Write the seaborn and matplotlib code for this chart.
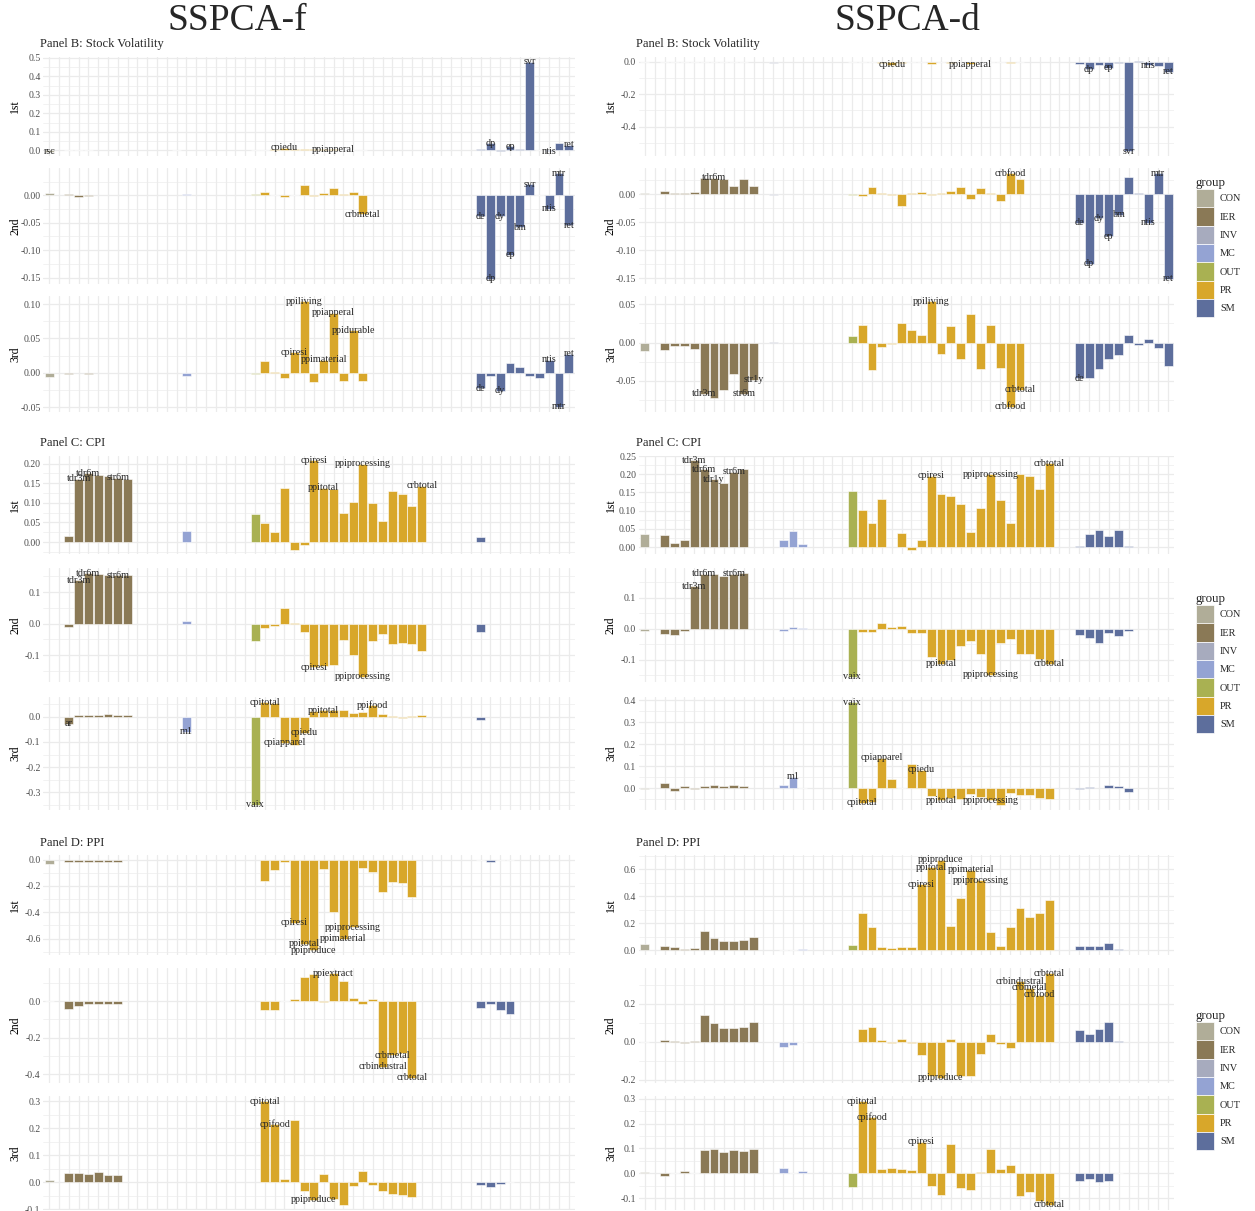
import matplotlib
matplotlib.use("Agg")
import matplotlib.pyplot as plt
from matplotlib.patches import Patch
from matplotlib.ticker import MaxNLocator, MultipleLocator
import pandas as pd
import seaborn as sns

# --- groups of the 54 predictors (same order in every panel) ---
group_order = ["CON", "IER", "INV", "MC", "OUT", "PR", "SM"]
group_sizes = [2, 11, 1, 3, 5, 22, 10]
group_colors = {"CON": "#B0AD98", "IER": "#8A7956", "INV": "#A7ABBE", "MC": "#94A3D3",
                "OUT": "#A9B152", "PR": "#D8A72A", "SM": "#5D6E9C"}
components = ["1st", "2nd", "3rd"]

# loadings are given per group (CON, IER, INV, MC, OUT, PR, SM);
# trailing zero loadings inside a group are left out

# ---- SSPCA-f, Panel B: Stock Volatility ----
b_f_names = {"rsc": 0, "cpiedu": 24, "cpiresi": 25, "ppiliving": 26, "ppimaterial": 28,
             "ppiapperal": 29, "ppidurable": 31, "crbmetal": 32, "de": 44, "dp": 45,
             "dy": 46, "ep": 47, "bm": 48, "svr": 49, "ntis": 51, "mtr": 52, "ret": 53}
b_f_1st = [[-0.006], [0.003, 0.003, 0.003], [0.002], [], [0, 0, 0, 0, 0.003],
           [0.004, 0.006, 0.015, 0.008, 0.007, 0.006, 0.005, 0.006, 0.004, 0.003, 0.002],
           [0.010, 0.038, -0.003, 0.022, 0.010, 0.480, 0.002, -0.004, 0.042, 0.030]]
b_f_2nd = [[0.004], [0.002, -0.003, -0.001], [], [0.003], [0, 0, 0, 0, 0.003],
           [0.006, 0.001, -0.003, 0.001, 0.018, -0.002, 0.004, 0.013, 0.003, 0.006, -0.035],
           [-0.038, -0.152, -0.038, -0.108, -0.058, 0.020, 0.001, -0.025, 0.040, -0.055]]
b_f_3rd = [[-0.006], [-0.002, 0, -0.001], [], [-0.004], [0, 0, 0, 0, -0.001],
           [0.018, 0.001, -0.008, 0.030, 0.104, -0.013, 0.019, 0.087, -0.012, 0.062, -0.012],
           [-0.022, -0.004, -0.026, 0.015, 0.009, -0.004, -0.008, 0.019, -0.049, 0.028]]
b_f_labels = [["rsc", "cpiedu", "ppiapperal", "dp", "ep", "svr", "ntis", "ret"],
              ["crbmetal", "de", "dp", "dy", "ep", "bm", "svr", "ntis", "mtr", "ret"],
              ["cpiresi", "ppiliving", "ppimaterial", "ppiapperal", "ppidurable",
               "de", "dy", "ntis", "mtr", "ret"]]

# ---- SSPCA-f, Panel C: CPI ----
c_f_names = {"ar": 2, "tdr3m": 3, "tdr6m": 4, "str6m": 7, "m1": 14, "vaix": 21,
             "cpitotal": 22, "cpiapparel": 24, "cpiedu": 26, "cpiresi": 27, "ppitotal": 28,
             "ppiprocessing": 32, "ppifood": 33, "crbtotal": 38}
c_f_1st = [[], [0.015, 0.161, 0.176, 0.172, 0.168, 0.164, 0.161], [], [0.029], [0, 0, 0, 0, 0.071],
           [0.048, 0.026, 0.137, -0.019, -0.008, 0.208, 0.139, 0.135, 0.075, 0.103, 0.200,
            0.100, 0.055, 0.129, 0.123, 0.092, 0.143],
           [0.014]]
c_f_2nd = [[], [-0.010, 0.138, 0.160, 0.158, 0.155, 0.153, 0.153], [], [0.008], [0, 0, 0, 0, -0.054],
           [-0.013, -0.007, 0.050, 0.001, -0.026, -0.138, -0.135, -0.130, -0.051, -0.101, -0.169,
            -0.054, -0.032, -0.066, -0.063, -0.064, -0.086],
           [-0.028]]
c_f_3rd = [[], [-0.028, 0.007, 0.007, 0.006, 0.009, 0.005, 0.005], [], [-0.060], [0, 0, 0, 0, -0.350],
           [0.058, 0.055, -0.104, -0.112, -0.063, 0.021, 0.026, 0.025, 0.026, 0.016, 0.020,
            0.046, 0.009, 0.003, -0.005, 0.004, 0.005],
           [-0.012]]
c_f_labels = [["tdr3m", "tdr6m", "str6m", "cpiresi", "ppitotal", "ppiprocessing", "crbtotal"],
              ["tdr3m", "tdr6m", "str6m", "cpiresi", "ppiprocessing"],
              ["ar", "m1", "vaix", "cpitotal", "cpiapparel", "cpiedu", "ppitotal", "ppifood"]]

# ---- SSPCA-f, Panel D: PPI ----
d_f_names = {"cpitotal": 22, "cpifood": 23, "cpiresi": 25, "ppitotal": 26, "ppiproduce": 27,
             "ppiextract": 29, "ppimaterial": 30, "ppiprocessing": 31, "crbindustral": 34,
             "crbmetal": 35, "crbtotal": 37}
d_f_1st = [[-0.033], [-0.022, -0.018, -0.015, -0.020, -0.016, -0.015], [], [], [],
           [-0.165, -0.079, -0.015, -0.480, -0.638, -0.690, -0.074, -0.400, -0.600, -0.515,
            -0.066, -0.097, -0.244, -0.168, -0.180, -0.282],
           [-0.006, -0.018, -0.004, -0.006]]
d_f_2nd = [[-0.001], [-0.042, -0.024, -0.015, -0.015, -0.015, -0.015], [], [], [],
           [-0.050, -0.048, -0.002, 0.011, 0.134, 0.147, -0.003, 0.152, 0.110, 0.015,
            -0.018, 0.013, -0.358, -0.294, -0.281, -0.418],
           [-0.037, -0.016, -0.048, -0.068]]
d_f_3rd = [[0.007], [0.034, 0.034, 0.030, 0.037, 0.028, 0.029], [], [], [],
           [0.300, 0.214, 0.012, 0.229, -0.032, -0.065, 0.031, -0.060, -0.083, -0.012,
            0.042, -0.010, -0.033, -0.043, -0.047, -0.053],
           [-0.010, -0.018, -0.006, 0.001]]
d_f_labels = [["cpiresi", "ppitotal", "ppiproduce", "ppimaterial", "ppiprocessing"],
              ["ppiextract", "crbmetal", "crbindustral", "crbtotal"],
              ["cpitotal", "cpifood", "ppiproduce"]]

# ---- SSPCA-d, Panel B: Stock Volatility ----
b_d_names = {"tdr3m": 6, "tdr6m": 7, "str6m": 10, "str1y": 11, "cpiedu": 25, "ppiliving": 29,
             "ppiapperal": 33, "crbfood": 37, "crbtotal": 38, "de": 44, "dp": 45, "dy": 46,
             "ep": 47, "bm": 48, "svr": 49, "ntis": 51, "mtr": 52, "ret": 53}
b_d_1st = [[-0.003], [-0.004, -0.003, -0.004, -0.005, -0.004, -0.005, -0.003, -0.004, -0.003],
           [-0.006], [], [0, 0, 0, 0, -0.004],
           [-0.005, -0.004, -0.008, -0.020, -0.006, -0.004, -0.005, -0.014, -0.003, -0.006,
            -0.004, -0.016, -0.004, -0.005, -0.003, -0.006, -0.002],
           [-0.012, -0.047, -0.020, -0.037, -0.008, -0.554, 0.001, -0.023, -0.025, -0.062]]
b_d_2nd = [[0.002], [0.006, 0.001, 0.002, 0.003, 0.029, 0.029, 0.027, 0.015, 0.027, 0.015],
           [-0.002], [], [0, 0, 0, 0, -0.002],
           [-0.004, 0.012, 0.002, -0.002, -0.022, 0.002, 0.003, -0.002, 0.002, 0.006, 0.012,
            -0.009, 0.011, 0.002, -0.012, 0.037, 0.027],
           [-0.051, -0.124, -0.043, -0.075, -0.037, 0.030, 0.002, -0.051, 0.037, -0.151]]
b_d_3rd = [[-0.011], [-0.010, -0.005, -0.005, -0.008, -0.067, -0.073, -0.062, -0.041, -0.067, -0.049],
           [0.001], [], [0, 0, 0, 0, 0.009],
           [0.023, -0.036, -0.006, -0.002, 0.026, 0.016, 0.010, 0.054, -0.015, 0.022, -0.022,
            0.037, -0.035, 0.023, -0.033, -0.084, -0.062],
           [-0.047, -0.046, -0.035, -0.021, -0.016, 0.010, -0.003, 0.005, -0.007, -0.031]]
b_d_labels = [["cpiedu", "ppiapperal", "dp", "ep", "svr", "ntis", "ret"],
              ["tdr6m", "crbfood", "de", "dp", "dy", "ep", "bm", "ntis", "mtr", "ret"],
              ["tdr3m", "str6m", "str1y", "ppiliving", "crbtotal", "crbfood", "de"]]

# ---- SSPCA-d, Panel C: CPI ----
c_d_names = {"tdr3m": 5, "tdr6m": 6, "tdr1y": 7, "str6m": 9, "m1": 15, "vaix": 21,
             "cpitotal": 22, "cpiapparel": 24, "cpiedu": 28, "cpiresi": 29, "ppitotal": 30,
             "ppiprocessing": 35, "crbtotal": 41}
c_d_1st = [[0.035], [0.032, 0.012, 0.019, 0.238, 0.214, 0.187, 0.175, 0.207, 0.214], [],
           [0.020, 0.043, 0.007], [0, 0, 0, 0, 0.155],
           [0.103, 0.066, 0.133, 0, 0.039, -0.007, 0.020, 0.196, 0.147, 0.140, 0.118, 0.040,
            0.108, 0.200, 0.128, 0.065, 0.200, 0.195, 0.160, 0.230],
           [0.002, 0.035, 0.048, 0.031, 0.048, 0.004]]
c_d_2nd = [[-0.006], [-0.018, -0.022, -0.008, 0.137, 0.178, 0.178, 0.170, 0.178, 0.180], [],
           [-0.008, 0.006, 0.003], [0, 0, 0, 0, -0.156],
           [-0.012, -0.010, 0.017, 0.005, 0.010, -0.015, -0.013, -0.092, -0.113, -0.102,
            -0.055, -0.040, -0.083, -0.150, -0.045, -0.033, -0.083, -0.082, -0.098, -0.113],
           [-0.022, -0.030, -0.047, -0.015, -0.023, -0.008]]
c_d_3rd = [[-0.003], [0.025, -0.013, 0.010, -0.003, 0.012, 0.014, 0.012, 0.015, 0.013], [],
           [0.015, 0.052, 0.002], [0, 0, 0, 0, 0.392],
           [-0.065, -0.060, 0.139, 0.043, 0.002, 0.111, 0.085, -0.033, -0.054, -0.045,
            -0.048, -0.025, -0.038, -0.054, -0.075, -0.022, -0.032, -0.028, -0.045, -0.048],
           [-0.005, 0.007, 0, 0.016, 0.013, -0.016]]
c_d_labels = [["tdr3m", "tdr6m", "tdr1y", "str6m", "cpiresi", "ppiprocessing", "crbtotal"],
              ["tdr3m", "tdr6m", "str6m", "vaix", "ppitotal", "ppiprocessing", "crbtotal"],
              ["m1", "vaix", "cpitotal", "cpiapparel", "cpiedu", "ppitotal", "ppiprocessing"]]

# ---- SSPCA-d, Panel D: PPI ----
d_d_names = {"cpitotal": 22, "cpifood": 23, "cpiresi": 28, "ppitotal": 29, "ppiproduce": 30,
             "ppimaterial": 33, "ppiprocessing": 34, "crbindustral": 38, "crbmetal": 39,
             "crbfood": 40, "crbtotal": 41}
d_d_1st = [[0.050], [0.030, 0.028, 0.010, 0.020, 0.147, 0.095, 0.068, 0.073, 0.078, 0.102], [],
           [0.005, 0.005, 0.010], [0, 0, 0, 0, 0.043],
           [0.280, 0.170, 0.027, 0.015, 0.022, 0.027, 0.490, 0.615, 0.672, 0.180, 0.390,
            0.595, 0.518, 0.135, 0.030, 0.170, 0.315, 0.245, 0.275, 0.375],
           [0.035, 0.035, 0.030, 0.055, 0.008]]
d_d_2nd = [[-0.002], [0.012, 0.006, -0.005, 0.002, 0.143, 0.100, 0.072, 0.075, 0.080, 0.102], [],
           [-0.025, -0.018, -0.002], [],
           [0.065, 0.077, 0.007, -0.007, 0.016, -0.006, -0.070, -0.180, -0.190, 0.016,
            -0.180, -0.180, -0.065, 0.043, -0.013, -0.033, 0.320, 0.285, 0.248, 0.362],
           [0.060, 0.040, 0.068, 0.102, 0.005]]
d_d_3rd = [[0.005], [-0.010, 0.001, 0.009, 0.003, 0.095, 0.097, 0.085, 0.095, 0.088, 0.097], [],
           [0.022, 0.002, 0.008], [0, 0, 0, 0, -0.055],
           [0.290, 0.225, 0.016, 0.020, 0.019, 0.013, 0.127, -0.050, -0.088, 0.117, -0.058,
            -0.066, 0.005, 0.098, 0.017, 0.035, -0.090, -0.076, -0.113, -0.127],
           [-0.032, -0.024, -0.035, -0.030, 0.001]]
d_d_labels = [["cpiresi", "ppitotal", "ppiproduce", "ppimaterial", "ppiprocessing"],
              ["ppiproduce", "crbindustral", "crbmetal", "crbfood", "crbtotal"],
              ["cpitotal", "cpifood", "cpiresi", "crbtotal"]]

panel_titles = ["Panel B: Stock Volatility", "Panel C: CPI", "Panel D: PPI"]
methods = {
    "SSPCA-f": [(b_f_names, [b_f_1st, b_f_2nd, b_f_3rd], b_f_labels),
                (c_f_names, [c_f_1st, c_f_2nd, c_f_3rd], c_f_labels),
                (d_f_names, [d_f_1st, d_f_2nd, d_f_3rd], d_f_labels)],
    "SSPCA-d": [(b_d_names, [b_d_1st, b_d_2nd, b_d_3rd], b_d_labels),
                (c_d_names, [c_d_1st, c_d_2nd, c_d_3rd], c_d_labels),
                (d_d_names, [d_d_1st, d_d_2nd, d_d_3rd], d_d_labels)],
}

groups = [g for g, n in zip(group_order, group_sizes) for _ in range(n)]
n_vars = len(groups)


def expand(parts):
    vals = []
    for part, n in zip(parts, group_sizes):
        vals += list(part) + [0.0] * (n - len(part))
    return vals


# --- layout (pixels) ---
W, H = 1255, 1211
col_x = [(43.4, 574.6), (639.0, 1174.0)]
row_y = [[(57, 156), (168, 284), (296, 412)],
         [(456, 554), (568, 682), (697, 810)],
         [(855, 955), (968, 1083), (1096, 1210)]]
title_y = [44, 443, 843]
legend_top = [177, 593, 1010]
method_title_x = [237, 907]

sns.set_theme(style="white")
plt.rcParams["font.family"] = ["Liberation Serif", "DejaVu Serif"]

fig = plt.figure(figsize=(W / 100, H / 100), dpi=100)


def draw_component(ax, values, names, labels, comp):
    df = pd.DataFrame({"pos": range(n_vars), "value": values, "group": groups})
    df = df[df["value"] != 0]
    sns.barplot(data=df, x="pos", y="value", hue="group", hue_order=group_order,
                order=list(range(n_vars)), palette=group_colors, dodge=False, width=0.9,
                saturation=1, edgecolor="white", linewidth=0.4, legend=False,
                errorbar=None, ax=ax)
    for name in labels:
        i = names[name]
        ax.text(i, values[i], name, ha="center", va="center", fontsize=7.3, zorder=5)

    lo, hi = min(0, min(values)), max(0, max(values))
    pad = 0.05 * (hi - lo)
    ax.set_xlim(-0.6, n_vars - 0.4)
    ax.set_ylim(lo - pad, hi + pad)

    ax.yaxis.set_major_locator(MaxNLocator(nbins=6, steps=[1, 2, 2.5, 5, 10]))
    ticks = [t for t in ax.get_yticks() if lo - pad <= t <= hi + pad]
    step = ticks[1] - ticks[0]
    dec = 0
    while dec < 4 and abs(step * 10 ** dec - round(step * 10 ** dec)) > 1e-6:
        dec += 1
    ax.set_yticks(ticks)
    ax.set_yticklabels([f"{0 if abs(t) < 1e-9 else t:.{dec}f}" for t in ticks])
    ax.yaxis.set_minor_locator(MultipleLocator(step / 2))

    ax.set_axisbelow(True)
    ax.grid(which="major", color="#EBEBEB", linewidth=0.9)
    ax.grid(which="minor", axis="y", color="#EBEBEB", linewidth=0.45)
    ax.tick_params(axis="both", which="both", length=0)
    ax.tick_params(axis="x", labelbottom=False)
    ax.tick_params(axis="y", labelsize=7, labelcolor="#4D4D4D", pad=2)
    for s in ax.spines.values():
        s.set_visible(False)
    ax.set_xlabel("")
    ax.set_ylabel(comp, fontsize=8.5, color="black")


for c, (method, panels) in enumerate(methods.items()):
    x0, x1 = col_x[c]
    fig.text(method_title_x[c] / W, 1 - 21 / H, method, ha="center", va="center", fontsize=27)
    for p, (names, comps, labels) in enumerate(panels):
        fig.text((x0 - 3) / W, 1 - title_y[p] / H, panel_titles[p], ha="left", va="center",
                 fontsize=9)
        for r, comp in enumerate(components):
            y0, y1 = row_y[p][r]
            ax = fig.add_axes([x0 / W, 1 - y1 / H, (x1 - x0) / W, (y1 - y0) / H])
            draw_component(ax, expand(comps[r]), names, labels[r], comp)
            ax.yaxis.set_label_coords(-22 / (x1 - x0), 0.5)

# one legend per panel row
handles = [Patch(facecolor=group_colors[g], edgecolor="white", linewidth=0.5) for g in group_order]
for p in range(3):
    fig.legend(handles, group_order, title="group", loc="upper left",
               bbox_to_anchor=(1196 / W, 1 - legend_top[p] / H), frameon=False,
               fontsize=7.4, title_fontsize=9.3, handlelength=1.78, handleheight=2.37,
               labelspacing=0.0, handletextpad=0.55, borderpad=0, borderaxespad=0,
               alignment="left")

fig.savefig("out.png", dpi=100, facecolor="white")
